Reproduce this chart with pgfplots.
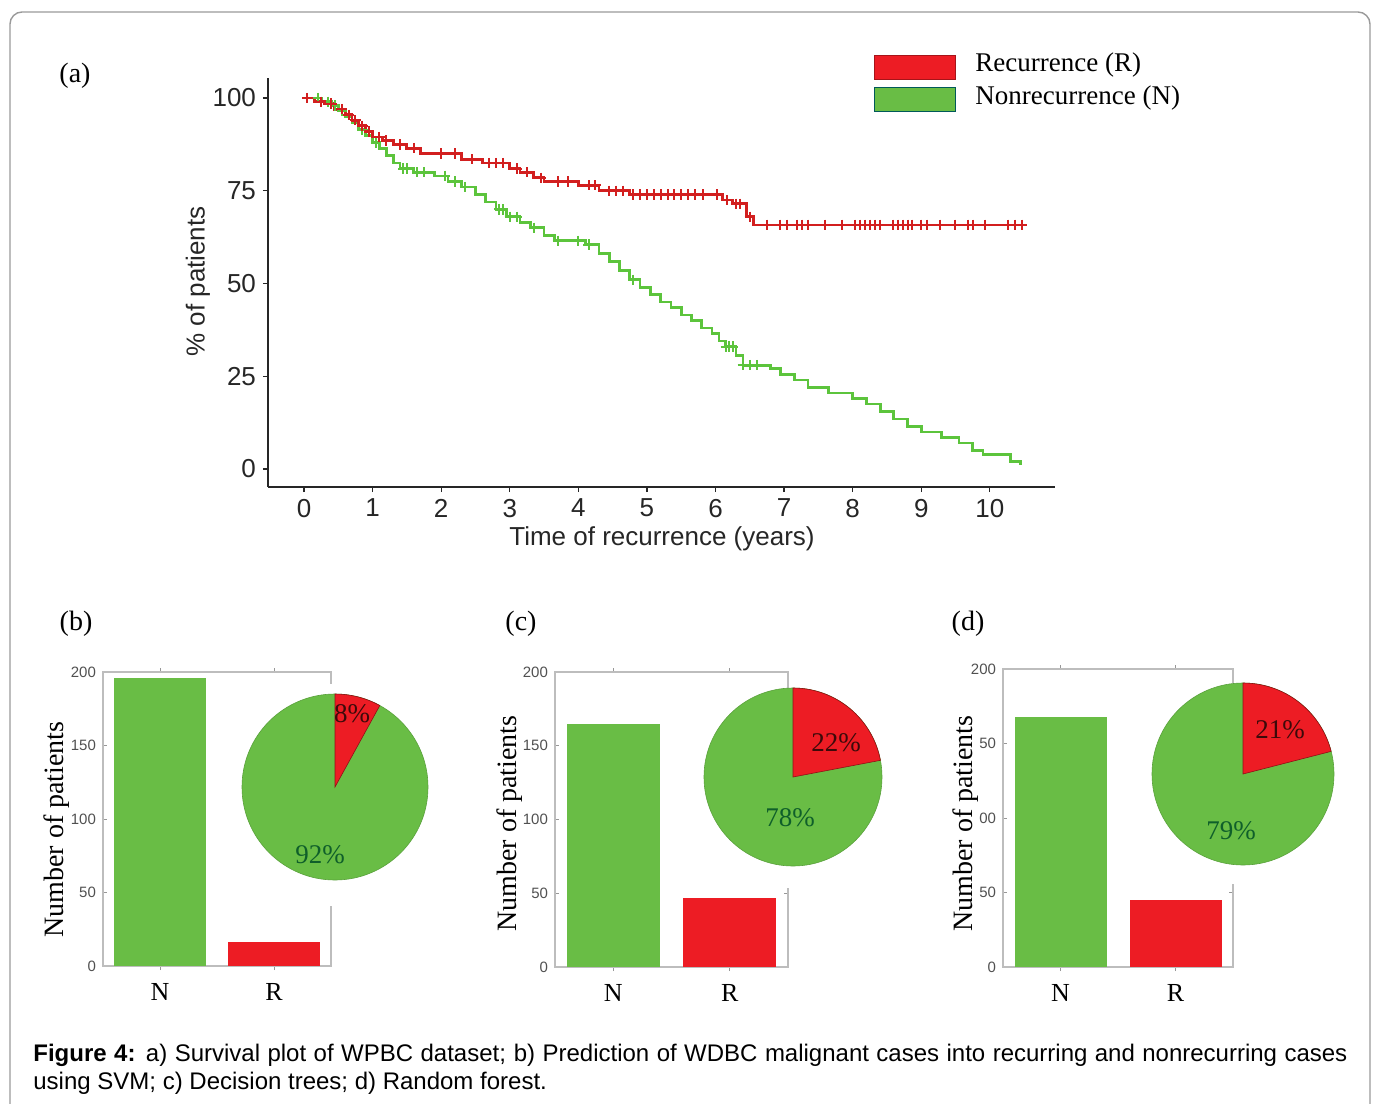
\documentclass[border=0pt]{standalone}
\usepackage{fontspec}
\setmainfont{Liberation Sans}
\newfontfamily\serif{Liberation Serif}
\usepackage{pgfplots}
\pgfplotsset{compat=1.18}
\definecolor{kmred}{HTML}{D21F1F}
\definecolor{kmgreen}{HTML}{5CC43C}
\definecolor{barred}{HTML}{ED1C24}
\definecolor{bargreen}{HTML}{69BD45}
\definecolor{boxgray}{HTML}{BDBDBD}
\definecolor{tickgray}{HTML}{505050}
\definecolor{lblgreen}{HTML}{0F5F2A}
\definecolor{lblred}{HTML}{3C0A0A}
\definecolor{framegray}{HTML}{9A9A9A}

\pgfplotsset{barpanel/.style={
  scale only axis, anchor=south west,
  xmin=0.5, xmax=2.5, ymin=0, ymax=200,
  axis line style={boxgray, line width=0.6pt},
  xtick={1,2}, xticklabels={N,R},
  ytick={0,50,100,150,200},
  tick align=inside, tick pos=both, major tick length=2pt,
  tick style={boxgray!80!black, line width=0.4pt},
  yticklabel style={font=\fontsize{7.5}{7.5}\selectfont, text=tickgray},
  xticklabel style={font=\serif\fontsize{13}{13}\selectfont, text=black, anchor=center, yshift=-11pt},
  /pgf/number format/assume math mode=true,
  ybar, bar width=0.8,
},
piepanel/.style={
  anchor=center, scale only axis, hide axis, clip=false,
  xmin=-1, xmax=1, ymin=-1, ymax=1,
}}

\begin{document}
\begin{tikzpicture}
\useasboundingbox (0,0) rectangle (686.5pt,-552pt);
\draw[framegray, line width=0.7pt, rounded corners=6pt] (5pt,-6pt) rectangle (685pt,-570pt);

% ---------- (a) survival plot ----------
\node[font=\serif\fontsize{14}{14}\selectfont] at (37.5pt,-38pt) {(a)};
\begin{axis}[
  at={(134pt,-243.5pt)}, anchor=south west,
  scale only axis, width=393.5pt, height=204.5pt,
  xmin=-0.525, xmax=10.95, ymin=-4.85, ymax=105.4,
  axis x line*=bottom, axis y line*=left,
  axis line style={black!85, line width=0.8pt, -},
  xtick={0,1,...,10}, ytick={0,25,50,75,100},
  tick align=outside, major tick length=2.5pt,
  tick style={black!85, line width=0.6pt},
  tick label style={font=\fontsize{13}{13}\selectfont, text=black!85},
  /pgf/number format/assume math mode=true,
  clip=false,
]
\addplot[const plot, kmgreen, line width=1.4pt] table {
x y
0 100
0.25 99
0.4 98
0.5 96.5
0.6 95
0.7 93.5
0.8 91.5
0.9 90
1.0 88
1.1 86.5
1.2 84.5
1.3 82.5
1.4 81
1.6 80
1.9 79
2.1 77.5
2.3 76
2.5 74
2.65 72
2.8 70
2.95 68
3.15 66.5
3.3 65
3.5 63
3.65 61.5
4.1 60.5
4.3 58
4.45 56
4.6 53.5
4.75 51
4.9 49
5.05 47
5.2 45
5.35 43.5
5.5 41.5
5.65 40
5.8 38
5.95 36.5
6.05 34.5
6.15 33
6.3 30.5
6.4 28
6.8 27
6.95 25.5
7.15 24
7.35 22
7.65 20.5
8.0 19
8.2 17.5
8.4 15.5
8.6 13.5
8.8 11.5
9.0 10
9.3 8.5
9.55 7
9.75 5
9.9 4
10.3 2
10.45 1
};
\addplot[only marks, mark=+, mark size=2.6pt, kmgreen, line width=1pt] table {
x y
0.2 100
0.35 99
0.45 98
0.55 96.5
0.85 91.5
1.05 88
1.45 81
1.5 81
1.65 80
1.75 80
2.05 79
2.2 77.5
2.35 76
2.85 70
2.9 70
3.0 68
3.1 68
3.35 65
3.7 61.5
4.0 61.5
4.15 60.5
4.8 51
6.15 33
6.2 33
6.25 33
6.4 28
6.5 28
6.6 28
};
\addplot[const plot, kmred, line width=1.4pt] table {
x y
0 100
0.15 99
0.3 98.5
0.45 97
0.6 95.5
0.7 94
0.8 92.5
0.9 91
1.0 89.5
1.15 88.5
1.3 87.5
1.5 86.5
1.7 85
2.3 83.5
2.6 82.5
3.0 81
3.15 80
3.35 78.5
3.5 77.5
4.0 76.5
4.3 75
4.75 74
6.1 72.5
6.25 71.5
6.45 68
6.55 65.8
10.47 65.8
};
\addplot[only marks, mark=+, mark size=2.6pt, kmred, line width=1pt] table {
x y
0.05 100
0.25 99
0.4 98.5
0.55 97
0.65 95.5
0.75 94
0.85 92.5
0.95 91
1.1 89.5
1.2 88.5
1.4 87.5
1.6 86.5
2.0 85
2.2 85
2.45 83.5
2.7 82.5
2.8 82.5
2.9 82.5
3.1 81
3.25 80
3.45 78.5
3.7 77.5
3.85 77.5
4.15 76.5
4.25 76.5
4.45 75
4.55 75
4.65 75
4.8 74
4.9 74
5.0 74
5.1 74
5.2 74
5.3 74
5.4 74
5.5 74
5.6 74
5.7 74
5.82 74
6.02 74
6.17 72.5
6.3 71.5
6.36 71.5
6.5 68
6.75 65.8
6.94 65.8
7.04 65.8
7.19 65.8
7.26 65.8
7.35 65.8
7.6 65.8
7.84 65.8
8.03 65.8
8.1 65.8
8.18 65.8
8.25 65.8
8.32 65.8
8.4 65.8
8.59 65.8
8.66 65.8
8.73 65.8
8.8 65.8
8.86 65.8
9.0 65.8
9.09 65.8
9.27 65.8
9.49 65.8
9.68 65.8
9.75 65.8
9.93 65.8
10.26 65.8
10.36 65.8
10.47 65.8
};
\end{axis}
\node[rotate=90, font=\fontsize{13}{13}\selectfont, text=black!85] at (99pt,-140.75pt) {\% of patients};
\node[font=\fontsize{13}{13}\selectfont, text=black!85] at (331pt,-269.5pt) {Time of recurrence (years)};
% legend
\filldraw[fill=barred, draw=barred!70!black, line width=0.4pt] (437pt,-27.5pt) rectangle (477.5pt,-39.5pt);
\filldraw[fill=bargreen, draw=teal!70!black, line width=0.4pt] (437pt,-43.5pt) rectangle (477.5pt,-55.5pt);
\node[anchor=west, inner sep=0pt, font=\serif\fontsize{13.5}{13.5}\selectfont] at (487.5pt,-32.5pt) {Recurrence (R)};
\node[anchor=west, inner sep=0pt, font=\serif\fontsize{13.5}{13.5}\selectfont] at (487.5pt,-49pt) {Nonrecurrence (N)};

% ---------- (b) SVM ----------
\node[font=\serif\fontsize{14}{14}\selectfont] at (38pt,-312pt) {(b)};
\begin{axis}[barpanel, at={(51.5pt,-483pt)}, width=114pt, height=147pt]
\addplot[fill=bargreen, draw=none, bar shift=0pt] coordinates {(1,196)};
\addplot[fill=barred, draw=none, bar shift=0pt] coordinates {(2,16)};
\end{axis}
\fill[white] (119pt,-342pt) rectangle (216pt,-453pt);
\begin{axis}[piepanel, at={(167.5pt,-393.5pt)}, width=93pt, height=93pt]
\filldraw[fill=bargreen, draw=bargreen!85!black, line width=0.3pt] (axis cs:0,0) circle[radius=46.5pt];
\filldraw[fill=barred, draw=barred!60!black, line width=0.3pt] (axis cs:0,0) -- (axis cs:0,1) arc[start angle=90, end angle={90-3.6*8}, radius=46.5pt] -- cycle;
\end{axis}
\node[font=\serif\fontsize{13.5}{13.5}\selectfont, text=lblred] at (176pt,-357pt) {8\%};
\node[font=\serif\fontsize{13.5}{13.5}\selectfont, text=lblgreen] at (160pt,-427.5pt) {92\%};
\node[rotate=90, font=\serif\fontsize{14}{14}\selectfont] at (28.5pt,-414.75pt) {Number of patients};

% ---------- (c) Decision trees ----------
\node[font=\serif\fontsize{14}{14}\selectfont] at (260.5pt,-312pt) {(c)};
\begin{axis}[barpanel, at={(277.5pt,-483.5pt)}, width=116.5pt, height=147.5pt]
\addplot[fill=bargreen, draw=none, bar shift=0pt] coordinates {(1,165)};
\addplot[fill=barred, draw=none, bar shift=0pt] coordinates {(2,47)};
\end{axis}
\fill[white] (350pt,-344pt) rectangle (443pt,-444pt);
\begin{axis}[piepanel, at={(396.5pt,-388.5pt)}, width=89pt, height=89pt]
\filldraw[fill=bargreen, draw=bargreen!85!black, line width=0.3pt] (axis cs:0,0) circle[radius=44.5pt];
\filldraw[fill=barred, draw=barred!60!black, line width=0.3pt] (axis cs:0,0) -- (axis cs:0,1) arc[start angle=90, end angle={90-3.6*22}, radius=44.5pt] -- cycle;
\end{axis}
\node[font=\serif\fontsize{13.5}{13.5}\selectfont, text=lblred] at (418pt,-371.5pt) {22\%};
\node[font=\serif\fontsize{13.5}{13.5}\selectfont, text=lblgreen] at (395pt,-409pt) {78\%};
\node[rotate=90, font=\serif\fontsize{14}{14}\selectfont] at (255pt,-411.75pt) {Number of patients};

% ---------- (d) Random forest ----------
\node[font=\serif\fontsize{14}{14}\selectfont] at (484pt,-312pt) {(d)};
\begin{axis}[barpanel, at={(501.5pt,-483.5pt)}, width=115pt, height=149pt,
  yticklabels={0,50,00,50,200}]
\addplot[fill=bargreen, draw=none, bar shift=0pt] coordinates {(1,168)};
\addplot[fill=barred, draw=none, bar shift=0pt] coordinates {(2,45)};
\end{axis}
\fill[white] (574pt,-341.5pt) rectangle (669pt,-442pt);
\begin{axis}[piepanel, at={(621.5pt,-387pt)}, width=91pt, height=91pt]
\filldraw[fill=bargreen, draw=bargreen!85!black, line width=0.3pt] (axis cs:0,0) circle[radius=45.5pt];
\filldraw[fill=barred, draw=barred!60!black, line width=0.3pt] (axis cs:0,0) -- (axis cs:0,1) arc[start angle=90, end angle={90-3.6*21}, radius=45.5pt] -- cycle;
\end{axis}
\node[font=\serif\fontsize{13.5}{13.5}\selectfont, text=lblred] at (640pt,-365pt) {21\%};
\node[font=\serif\fontsize{13.5}{13.5}\selectfont, text=lblgreen] at (615.5pt,-415.5pt) {79\%};
\node[rotate=90, font=\serif\fontsize{14}{14}\selectfont] at (483pt,-411.75pt) {Number of patients};

% ---------- caption ----------
\node[anchor=north west, inner sep=0pt, text width=657pt, align=justify, font=\fontsize{12}{14}\selectfont] at (16.5pt,-522pt) {\textbf{Figure 4:} a) Survival plot of WPBC dataset; b) Prediction of WDBC malignant cases into recurring and nonrecurring cases\linebreak using SVM; c) Decision trees; d) Random forest.};
\end{tikzpicture}
\end{document}
